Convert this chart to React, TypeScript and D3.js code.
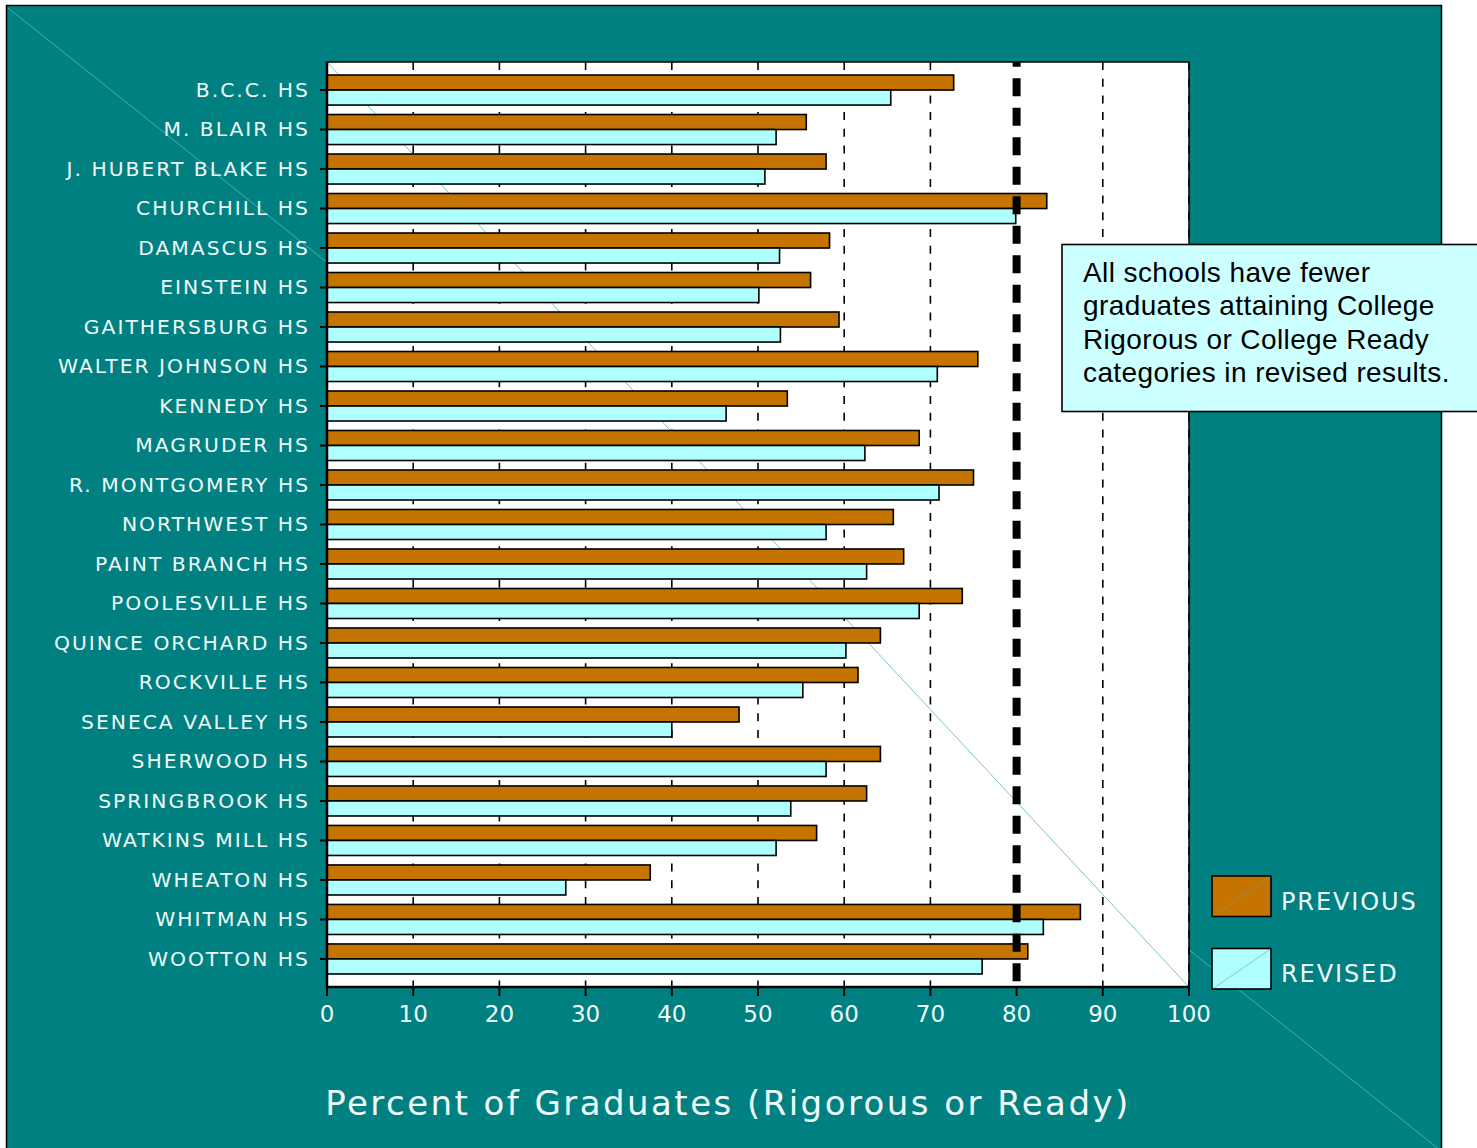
import React from "react";
import * as d3 from "d3";

const schools = [
  "B.C.C. HS", "M. BLAIR HS", "J. HUBERT BLAKE HS", "CHURCHILL HS", "DAMASCUS HS",
  "EINSTEIN HS", "GAITHERSBURG HS", "WALTER JOHNSON HS", "KENNEDY HS", "MAGRUDER HS",
  "R. MONTGOMERY HS", "NORTHWEST HS", "PAINT BRANCH HS", "POOLESVILLE HS", "QUINCE ORCHARD HS",
  "ROCKVILLE HS", "SENECA VALLEY HS", "SHERWOOD HS", "SPRINGBROOK HS", "WATKINS MILL HS",
  "WHEATON HS", "WHITMAN HS", "WOOTTON HS",
];
const previous = [72.7, 55.6, 57.9, 83.5, 58.3, 56.1, 59.4, 75.5, 53.4, 68.7, 75.0, 65.7, 66.9, 73.7, 64.2, 61.6, 47.8, 64.2, 62.6, 56.8, 37.5, 87.4, 81.3];
const revised = [65.4, 52.1, 50.8, 79.9, 52.5, 50.1, 52.6, 70.8, 46.3, 62.4, 71.0, 57.9, 62.6, 68.7, 60.2, 55.2, 40.0, 57.9, 53.8, 52.1, 27.7, 83.1, 76.0];
const xTicks = [0, 10, 20, 30, 40, 50, 60, 70, 80, 90, 100];
const seriesNames = ["PREVIOUS", "REVISED"];
const seriesColors = ["#C67400", "#B0FFFF"];
const referenceLine = 80;
const noteLines = [
  "All schools have fewer",
  "graduates attaining College",
  "Rigorous or College Ready",
  "categories in revised results.",
];
const axisTitle = "Percent of Graduates (Rigorous or Ready)";

const W = 1477;
const H = 1148;
const TEAL = "#008080";
const plot = { left: 327, right: 1189, top: 62, bottom: 987 };
const labelFont = "'DejaVu Sans', Verdana, sans-serif";

export default function App() {
  const x = d3.scaleLinear().domain([0, 100]).range([plot.left, plot.right]);
  const y = d3
    .scaleBand<string>()
    .domain(schools)
    .range([plot.top, plot.bottom])
    .paddingInner(0.24)
    .paddingOuter(0.33);
  const inner = d3.scaleBand<string>().domain(seriesNames).range([0, y.bandwidth()]);
  const series = [previous, revised];

  return (
    <div style={{ position: "absolute", left: 0, top: 0 }}>
      <svg width={W} height={H} style={{ display: "block" }}>
        <rect x={0} y={0} width={W} height={H} fill="#fff" />
        {/* teal frame */}
        <rect x={6.5} y={5.5} width={1435} height={1150} fill={TEAL} stroke="#000" strokeWidth={1.5} />
        <line x1={8} y1={8} x2={1440} y2={1150} stroke="#5fb8b8" strokeWidth={1} opacity={0.8} />

        {/* plot area */}
        <rect x={plot.left} y={plot.top} width={plot.right - plot.left} height={plot.bottom - plot.top} fill="#fff" />
        <line x1={plot.left} y1={plot.top} x2={plot.right} y2={plot.bottom} stroke="#7cc4c4" strokeWidth={1} />

        {/* gridlines */}
        {xTicks.filter((t) => t > 0 && t !== referenceLine).map((t) => (
          <line key={"g" + t} x1={x(t)} x2={x(t)} y1={plot.top} y2={plot.bottom} stroke="#000" strokeWidth={1.6} strokeDasharray="8,8.7" />
        ))}

        {/* bars */}
        {schools.map((s, i) => (
          <g key={s} transform={`translate(0,${y(s)})`}>
            {seriesNames.map((n, k) => (
              <rect
                key={n}
                x={x(0)}
                y={inner(n)}
                width={x(series[k][i]) - x(0)}
                height={inner.bandwidth()}
                fill={seriesColors[k]}
                stroke="#000"
                strokeWidth={1.6}
              />
            ))}
          </g>
        ))}

        {/* reference line at 80 */}
        <line x1={x(referenceLine)} x2={x(referenceLine)} y1={plot.top} y2={plot.bottom} stroke="#000" strokeWidth={8} strokeDasharray="18,11.5" strokeDashoffset={13.3} />

        {/* plot frame */}
        <rect x={plot.left} y={plot.top} width={plot.right - plot.left} height={plot.bottom - plot.top} fill="none" stroke="#000" strokeWidth={1.5} />
        <line x1={plot.left} x2={plot.left} y1={plot.top} y2={plot.bottom} stroke="#000" strokeWidth={2.5} />
        <line x1={plot.left} x2={plot.right} y1={plot.bottom} y2={plot.bottom} stroke="#000" strokeWidth={2.5} />

        {/* y ticks and labels */}
        {schools.map((s) => {
          const cy = (y(s) as number) + y.bandwidth() / 2;
          return (
            <g key={"l" + s}>
              <line x1={plot.left - 7} x2={plot.left} y1={cy} y2={cy} stroke="#000" strokeWidth={2} />
              <text
                x={310}
                y={cy + 6.8}
                textAnchor="end"
                fill="#EEFAFA"
                fontFamily={labelFont}
                fontSize={20.3}
                letterSpacing={2.0}
              >
                {s}
              </text>
            </g>
          );
        })}

        {/* x ticks and labels */}
        {xTicks.map((t) => (
          <g key={"t" + t}>
            <line x1={x(t)} x2={x(t)} y1={plot.bottom} y2={plot.bottom + 9} stroke="#000" strokeWidth={2} />
            <text x={x(t)} y={1022} textAnchor="middle" fill="#EEFAFA" fontFamily={labelFont} fontSize={23}>
              {t}
            </text>
          </g>
        ))}

        {/* axis title */}
        <text x={728} y={1115} textAnchor="middle" fill="#EEFAFA" fontFamily={labelFont} fontSize={34} letterSpacing={2.45}>
          {axisTitle}
        </text>

        {/* note box */}
        <rect x={1062} y={244.5} width={430} height={167} fill="#CCFFFF" stroke="#000" strokeWidth={1.6} />
        {noteLines.map((l, i) => (
          <text key={l} x={1083} y={282 + i * 33.3} fill="#000" fontFamily="'Liberation Sans', Arial, sans-serif" fontSize={28} letterSpacing={0.4}>
            {l}
          </text>
        ))}

        {/* legend */}
        {seriesNames.map((n, k) => {
          const ly = 876 + k * 72.5;
          return (
            <g key={"lg" + n}>
              <rect x={1212} y={ly} width={59} height={40.5} fill={seriesColors[k]} stroke="#000" strokeWidth={1.6} />
              <line x1={1213} y1={ly + 40} x2={1270} y2={ly + 1} stroke="#6fa0a0" strokeWidth={0.8} opacity={0.7} />
              <text x={1281} y={ly + 33.5} fill="#EEFAFA" fontFamily={labelFont} fontSize={24} letterSpacing={1.9}>
                {n}
              </text>
            </g>
          );
        })}
      </svg>
    </div>
  );
}
